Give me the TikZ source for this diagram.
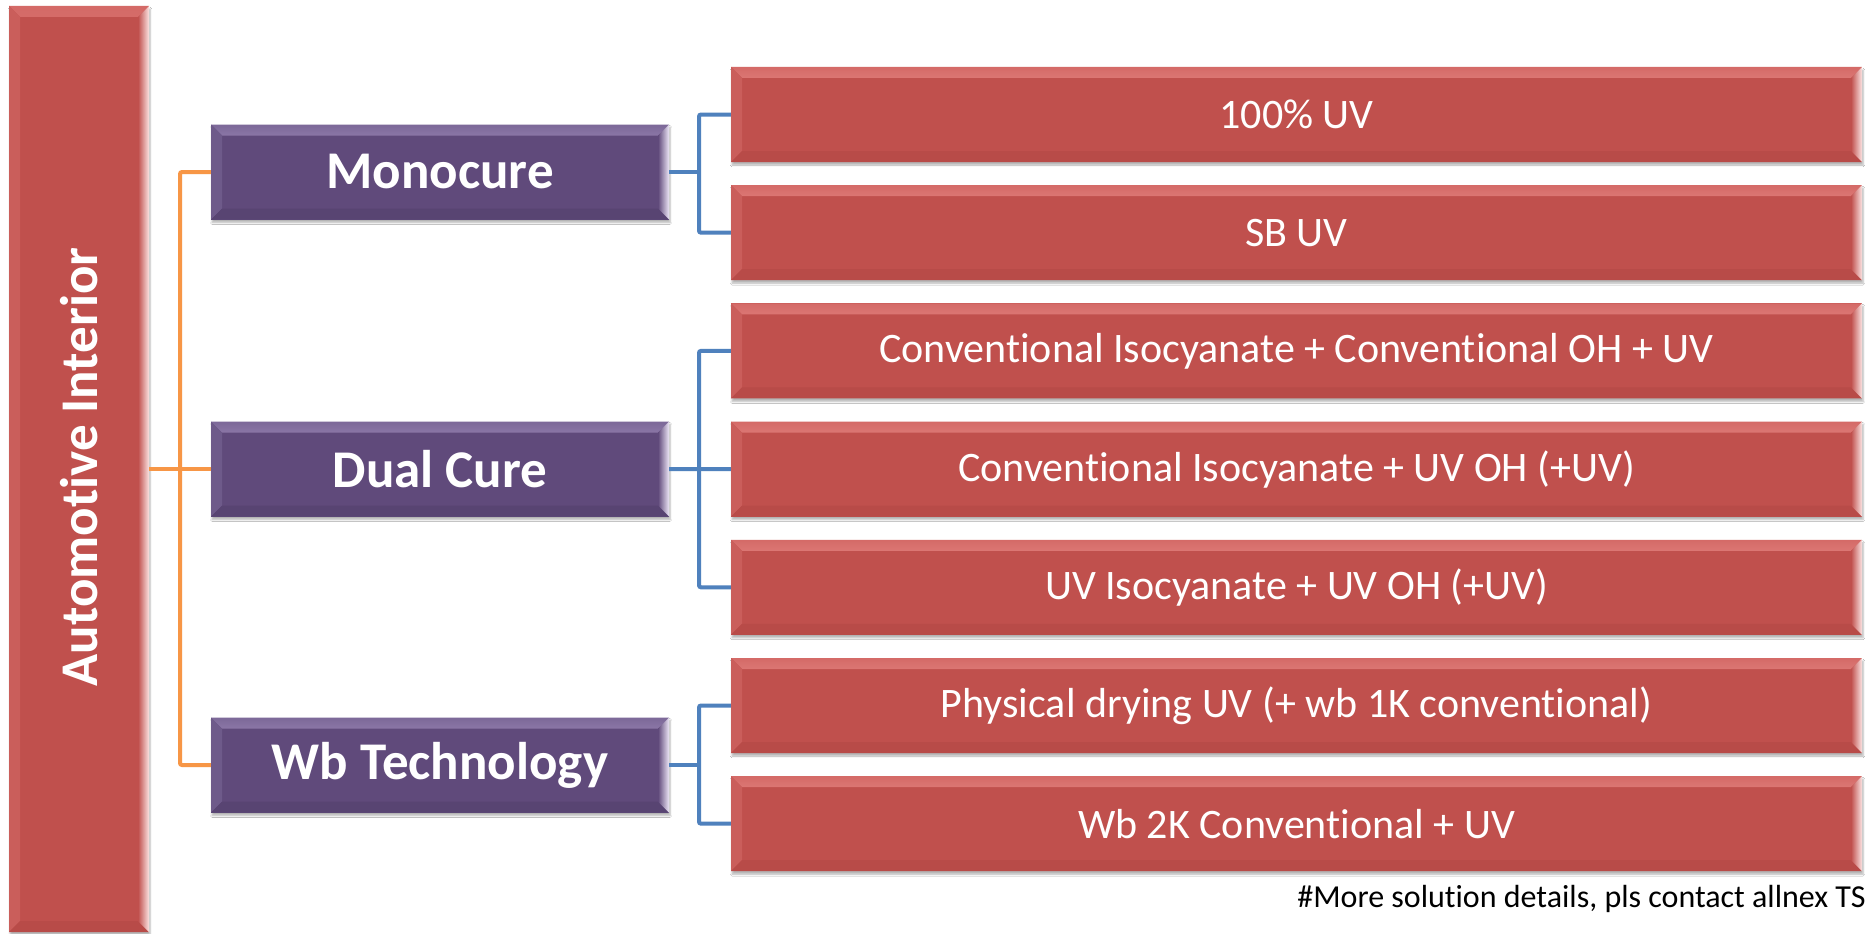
\documentclass[tikz,border=0pt]{standalone}
\usepackage{fontspec}
\setmainfont{Carlito}[Ligatures={NoCommon,NoContextual}]
\usetikzlibrary{shadows.blur}
\definecolor{boxred}{HTML}{C0504D}
\definecolor{redtop}{HTML}{F4A09D}
\definecolor{redtopedge}{HTML}{D46A67}
\definecolor{redleft}{HTML}{CA5E5B}
\definecolor{redbot}{HTML}{B84B48}
\definecolor{redright}{HTML}{FBE3E2}
\definecolor{boxpurple}{HTML}{604A7B}
\definecolor{purtop}{HTML}{BBA6D5}
\definecolor{purtopedge}{HTML}{7C6898}
\definecolor{purleft}{HTML}{6E5A8A}
\definecolor{purbot}{HTML}{584472}
\definecolor{purright}{HTML}{EDE6F6}
\definecolor{lineorange}{HTML}{F79646}
\definecolor{lineblue}{HTML}{4F81BD}
\newlength\bv
\setlength\bv{11pt}
\newcommand\bevelpic[6]{%
  \shade[top color=#6, bottom color=#5, middle color=#1]
    (path picture bounding box.north west) -- (path picture bounding box.north east)
    -- ([xshift=-\bv,yshift=-\bv]path picture bounding box.north east)
    -- ([xshift=\bv,yshift=-\bv]path picture bounding box.north west) -- cycle;
  \fill[#2]
    (path picture bounding box.north west) -- ([xshift=\bv,yshift=-\bv]path picture bounding box.north west)
    -- ([xshift=\bv,yshift=\bv]path picture bounding box.south west)
    -- (path picture bounding box.south west) -- cycle;
  \fill[#3]
    (path picture bounding box.south west) -- ([xshift=\bv,yshift=\bv]path picture bounding box.south west)
    -- ([xshift=-\bv,yshift=\bv]path picture bounding box.south east)
    -- (path picture bounding box.south east) -- cycle;
  \shade[left color=#5, right color=#4]
    (path picture bounding box.north east) -- ([xshift=-\bv,yshift=-\bv]path picture bounding box.north east)
    -- ([xshift=-\bv,yshift=\bv]path picture bounding box.south east)
    -- (path picture bounding box.south east) -- cycle;
}
\tikzset{
  boxshadow/.style={blur shadow={shadow xshift=1pt, shadow yshift=-3pt, shadow blur steps=5, shadow opacity=30}},
  redbox/.style={rectangle, fill=boxred, inner sep=0pt, text=white,
    minimum width=1131pt, minimum height=95pt,
    font=\fontsize{42}{50}\selectfont, boxshadow,
    path picture={\bevelpic{redtop}{redleft}{redbot}{redright}{boxred}{redtopedge}}},
  purplebox/.style={rectangle, fill=boxpurple, inner sep=0pt, text=white,
    minimum width=458pt, minimum height=95pt,
    font=\fontsize{53}{60}\selectfont\bfseries, boxshadow,
    path picture={\bevelpic{purtop}{purleft}{purbot}{purright}{boxpurple}{purtopedge}}},
  rootbox/.style={rectangle, fill=boxred, inner sep=0pt, text=white,
    minimum width=140pt, minimum height=926pt, boxshadow,
    path picture={\bevelpic{redtop}{redleft}{redbot}{redright}{boxred}{redtopedge}}},
  oline/.style={draw=lineorange, line width=4pt, rounded corners=2pt},
  bline/.style={draw=lineblue, line width=4pt, rounded corners=2pt},
  note/.style={inner sep=0pt, text=black, font=\fontsize{32}{38}\selectfont}
}
\begin{document}
\begin{tikzpicture}[x=1pt,y=-1pt]
\useasboundingbox[fill=white] (0,0) rectangle (1872,934);

\node[rootbox] (L) at (79,469) {};
\node[rotate=90, text=white, inner sep=0pt, font=\fontsize{53}{60}\selectfont\bfseries] (Lt) at (79,467) {Automotive Interior};

\node[purplebox] (M) at (440,172) {Monocure};
\node[purplebox] (D) at (440,469) {Dual Cure};
\node[purplebox] (W) at (440,765) {Wb Technology};

\node[redbox] (R1) at (1296.5,114.5) {100\% UV};
\node[redbox] (R2) at (1296.5,232.7) {SB UV};
\node[redbox] (R3) at (1296.5,350.9) {Conventional Isocyanate + Conventional OH + UV};
\node[redbox] (R4) at (1296.5,469.1) {Conventional Isocyanate + UV OH (+UV)};
\node[redbox] (R5) at (1296.5,587.3) {UV Isocyanate + UV OH (+UV)};
\node[redbox] (R6) at (1296.5,705.5) {Physical drying UV (+ wb 1K conventional)};
\node[redbox] (R7) at (1296.5,823.7) {Wb 2K Conventional + UV};

\node[note, anchor=base east] (N) at (1866,907) {\#More solution details, pls contact allnex TS};

\coordinate (oj) at (180,469);
\coordinate (bm) at (699,172);
\coordinate (bd) at (699,469);
\coordinate (bw) at (699,765);

\draw[oline] (L.east) -- (D.west);
\draw[oline] (M.west) -| (oj) |- (W.west);

\draw[bline] (M.east) -- (bm);
\draw[bline] (R1.west) -| (bm) |- (R2.west);
\draw[bline] (D.east) -- (R4.west);
\draw[bline] (R3.west) -| (bd) |- (R5.west);
\draw[bline] (W.east) -- (bw);
\draw[bline] (R6.west) -| (bw) |- (R7.west);
\end{tikzpicture}
\end{document}
